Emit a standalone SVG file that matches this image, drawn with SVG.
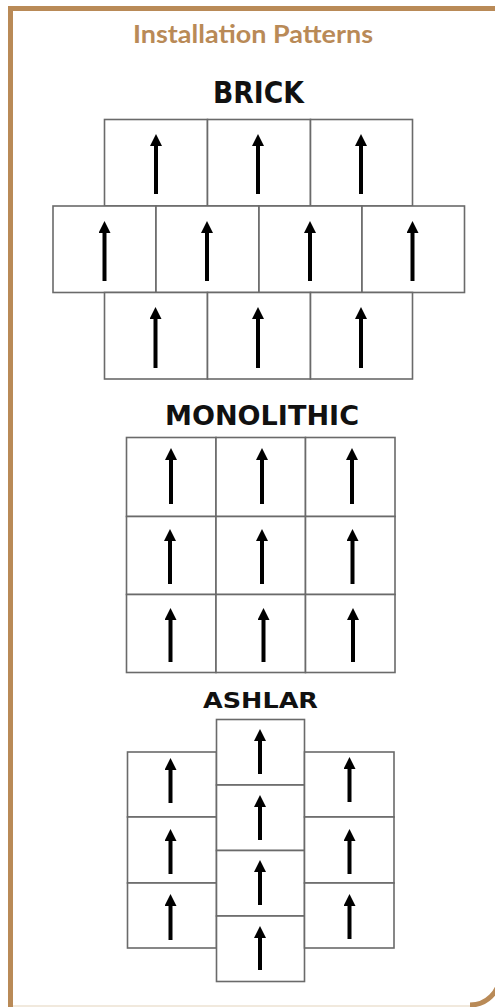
<svg xmlns="http://www.w3.org/2000/svg" width="495" height="1007" viewBox="0 0 495 1007">
<style>
.frame{fill:none;stroke:#b98a57;stroke-width:5}
.title{font-family:Lato,"Open Sans",sans-serif;font-weight:700;font-size:24px;fill:#b98a57}
.lbl{font-family:"DejaVu Sans",sans-serif;font-weight:700;fill:#111}
.tile{fill:#fff;stroke:#6a6a6a;stroke-width:1.6}
.arr{stroke:#000;stroke-width:4;fill:none;marker-end:url(#head)}
</style>
<defs>
<marker id="head" markerUnits="userSpaceOnUse" viewBox="0 0 12 12" markerWidth="12" markerHeight="12" refX="1" refY="6" orient="auto">
<path d="M0,0 L12,6 L0,12 z" fill="#000"/>
</marker>
</defs>
<rect width="495" height="1007" fill="#fff"/>
<g id="frame">
<path class="frame" d="M10.5,1007 V8.5 H495"/>
<line x1="13" y1="1006" x2="470" y2="1006" stroke="#ece2d2" stroke-width="1.5"/>
<path class="frame" d="M470,1005 A30,30 0 0 0 500,975"/>
</g>
<text class="title" x="253" y="43" text-anchor="middle" textLength="240" lengthAdjust="spacingAndGlyphs">Installation Patterns</text>

<!-- BRICK -->
<text class="lbl" x="258.5" y="103" font-size="30" text-anchor="middle" textLength="91" lengthAdjust="spacingAndGlyphs">BRICK</text>
<g id="brick">
<g id="b1"><rect class="tile" x="104.5" y="119.5" width="103" height="86.5"/><line class="arr" x1="156" y1="194" x2="156" y2="145"/></g>
<g id="b2"><rect class="tile" x="207.5" y="119.5" width="103" height="86.5"/><line class="arr" x1="258" y1="194" x2="258" y2="145"/></g>
<g id="b3"><rect class="tile" x="310.5" y="119.5" width="102" height="86.5"/><line class="arr" x1="361" y1="194" x2="361" y2="145"/></g>
<g id="b4"><rect class="tile" x="53" y="206" width="103" height="86.5"/><line class="arr" x1="104.5" y1="281" x2="104.5" y2="232"/></g>
<g id="b5"><rect class="tile" x="156" y="206" width="103" height="86.5"/><line class="arr" x1="207" y1="281" x2="207" y2="232"/></g>
<g id="b6"><rect class="tile" x="259" y="206" width="103" height="86.5"/><line class="arr" x1="310" y1="281" x2="310" y2="232"/></g>
<g id="b7"><rect class="tile" x="362" y="206" width="102.5" height="86.5"/><line class="arr" x1="412.5" y1="281" x2="412.5" y2="232"/></g>
<g id="b8"><rect class="tile" x="104.5" y="292.5" width="103" height="86.5"/><line class="arr" x1="155.5" y1="368" x2="155.5" y2="318"/></g>
<g id="b9"><rect class="tile" x="207.5" y="292.5" width="103" height="86.5"/><line class="arr" x1="258" y1="368" x2="258" y2="318"/></g>
<g id="b10"><rect class="tile" x="310.5" y="292.5" width="102" height="86.5"/><line class="arr" x1="361" y1="368" x2="361" y2="318"/></g>
</g>

<!-- MONOLITHIC -->
<text class="lbl" x="262" y="425" font-size="27" text-anchor="middle" textLength="194" lengthAdjust="spacingAndGlyphs">MONOLITHIC</text>
<g id="monolithic">
<g id="m1"><rect class="tile" x="126.5" y="437.5" width="89.5" height="79"/><line class="arr" x1="171" y1="504" x2="171" y2="459"/></g>
<g id="m2"><rect class="tile" x="216" y="437.5" width="89.5" height="79"/><line class="arr" x1="262" y1="504" x2="262" y2="459"/></g>
<g id="m3"><rect class="tile" x="305.5" y="437.5" width="89.5" height="79"/><line class="arr" x1="352" y1="504" x2="352" y2="459"/></g>
<g id="m4"><rect class="tile" x="126.5" y="516.5" width="89.5" height="78"/><line class="arr" x1="170" y1="584" x2="170" y2="540"/></g>
<g id="m5"><rect class="tile" x="216" y="516.5" width="89.5" height="78"/><line class="arr" x1="262" y1="584" x2="262" y2="540"/></g>
<g id="m6"><rect class="tile" x="305.5" y="516.5" width="89.5" height="78"/><line class="arr" x1="352.5" y1="584" x2="352.5" y2="540"/></g>
<g id="m7"><rect class="tile" x="126.5" y="594.5" width="89.5" height="78"/><line class="arr" x1="170.5" y1="662" x2="170.5" y2="619"/></g>
<g id="m8"><rect class="tile" x="216" y="594.5" width="89.5" height="78"/><line class="arr" x1="263.5" y1="662" x2="263.5" y2="619"/></g>
<g id="m9"><rect class="tile" x="305.5" y="594.5" width="89.5" height="78"/><line class="arr" x1="353" y1="662" x2="353" y2="619"/></g>
</g>

<!-- ASHLAR -->
<text class="lbl" x="260.5" y="708" font-size="21" text-anchor="middle" textLength="115" lengthAdjust="spacingAndGlyphs">ASHLAR</text>
<g id="ashlar">
<g id="a1"><rect class="tile" x="127.5" y="752" width="89" height="65"/><line class="arr" x1="170.5" y1="803" x2="170.5" y2="769"/></g>
<g id="a2"><rect class="tile" x="127.5" y="817" width="89" height="66"/><line class="arr" x1="170.5" y1="874" x2="170.5" y2="840"/></g>
<g id="a3"><rect class="tile" x="127.5" y="883" width="89" height="65"/><line class="arr" x1="170.5" y1="940" x2="170.5" y2="905"/></g>
<g id="a4"><rect class="tile" x="216.5" y="719.5" width="88" height="65.5"/><line class="arr" x1="260" y1="774" x2="260" y2="740"/></g>
<g id="a5"><rect class="tile" x="216.5" y="785" width="88" height="65.5"/><line class="arr" x1="260" y1="840" x2="260" y2="806"/></g>
<g id="a6"><rect class="tile" x="216.5" y="850.5" width="88" height="65.5"/><line class="arr" x1="260" y1="905" x2="260" y2="871"/></g>
<g id="a7"><rect class="tile" x="216.5" y="916" width="88" height="65.5"/><line class="arr" x1="260" y1="970" x2="260" y2="937"/></g>
<g id="a8"><rect class="tile" x="304.5" y="752" width="89.5" height="65"/><line class="arr" x1="349.5" y1="802" x2="349.5" y2="768"/></g>
<g id="a9"><rect class="tile" x="304.5" y="817" width="89.5" height="66"/><line class="arr" x1="349.5" y1="874" x2="349.5" y2="840"/></g>
<g id="a10"><rect class="tile" x="304.5" y="883" width="89.5" height="65"/><line class="arr" x1="349.5" y1="939" x2="349.5" y2="905"/></g>
</g>
</svg>
